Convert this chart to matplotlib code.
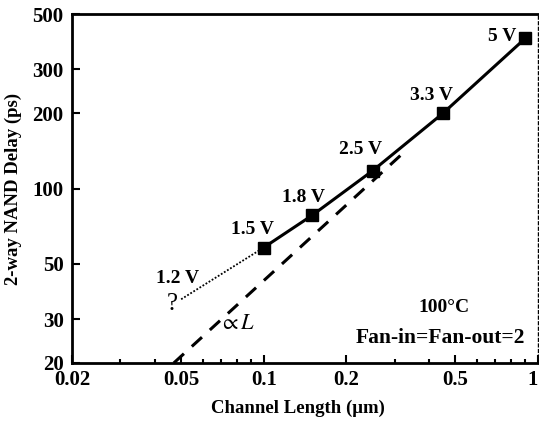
import matplotlib
matplotlib.use("Agg")
import matplotlib.pyplot as plt
from matplotlib.ticker import FixedLocator, NullFormatter

plt.rcParams['font.family'] = ['Liberation Serif', 'DejaVu Serif']
plt.rcParams['mathtext.fontset'] = 'stix'

# data
length_um = [0.1, 0.15, 0.25, 0.45, 0.9]
delay_ps = [58, 78, 118, 200, 400]
voltages = ["1.5 V", "1.8 V", "2.5 V", "3.3 V", "5 V"]
proj_length = [0.05, 0.1]
proj_delay = [36, 58]
prop_length = [0.047, 0.33]
prop_delay = [20, 142]

xticks = [0.02, 0.05, 0.1, 0.2, 0.5, 1]
xticklabels = ["0.02", "0.05", "0.1", "0.2", "0.5", "1"]
yticks = [20, 30, 50, 100, 200, 300, 500]
yticklabels = ["20", "30", "50", "100", "200", "300", "500"]

fig = plt.figure(figsize=(5.39, 4.21), dpi=100)
ax = fig.add_axes([0.1336, 0.1378, 0.8645, 0.8289])
ax.set_xscale('log')
ax.set_yscale('log')
ax.set_xlim(0.02, 1)
ax.set_ylim(20, 500)

ax.plot(prop_length, prop_delay, color='black', lw=2.2, ls=(0, (4.5, 3.5)))
ax.plot(proj_length, proj_delay, color='black', lw=1.3, ls=(0, (1, 1)))
ax.plot(length_um, delay_ps, color='black', lw=2.2, marker='s', ms=8)

label_off = [(-11, 18), (-9, 18), (-12, 21), (-11, 18), (-23, 2)]
for x, y, t, off in zip(length_um, delay_ps, voltages, label_off):
    ax.annotate(t, (x, y), xytext=off, textcoords='offset pixels',
                fontsize=14, fontweight='bold', ha='center', va='center')

ax.annotate("1.2 V", (proj_length[0], proj_delay[0]), xytext=(-4, 21),
            textcoords='offset pixels', fontsize=14, fontweight='bold',
            ha='center', va='center')
ax.annotate("?", (proj_length[0], proj_delay[0]), xytext=(-9, -5),
            textcoords='offset pixels', fontsize=18,
            ha='center', va='center')
ax.text(0.354, 0.109, r"$\propto L$", transform=ax.transAxes, fontsize=16,
        ha='center', va='center')
ax.text(0.798, 0.158, "100°C", transform=ax.transAxes, fontsize=14,
        fontweight='bold', ha='center', va='center')
ax.text(0.790, 0.073, "Fan-in=Fan-out=2", transform=ax.transAxes, fontsize=15.5,
        fontweight='bold', ha='center', va='center')

ax.xaxis.set_major_locator(FixedLocator(xticks))
ax.set_xticklabels(xticklabels)
ax.xaxis.set_minor_formatter(NullFormatter())
ax.yaxis.set_major_locator(FixedLocator(yticks))
ax.set_yticklabels(yticklabels)
ax.yaxis.set_minor_locator(FixedLocator([]))
ax.tick_params(which='both', direction='in', labelsize=15, width=1.5)
ax.tick_params(axis='x', pad=5)
ax.tick_params(axis='y', pad=6)
ax.tick_params(which='major', length=6)
ax.tick_params(which='minor', length=3)
for lab in ax.get_xticklabels() + ax.get_yticklabels():
    lab.set_fontweight('bold')
ax.get_xticklabels()[-1].set_ha('right')

for s in ['left', 'bottom', 'top']:
    ax.spines[s].set_linewidth(2)
ax.spines['right'].set_linewidth(1)
ax.spines['right'].set_linestyle((0, (2, 2)))

ax.set_xlabel("Channel Length (\u03bcm)", fontsize=13.5, fontweight='bold')
ax.xaxis.set_label_coords(0.485, -0.104)
ax.set_ylabel("2-way NAND Delay (ps)", fontsize=13.5, fontweight='bold')
ax.yaxis.set_label_coords(-0.107, 0.5)

fig.savefig("out.png", dpi=100)
